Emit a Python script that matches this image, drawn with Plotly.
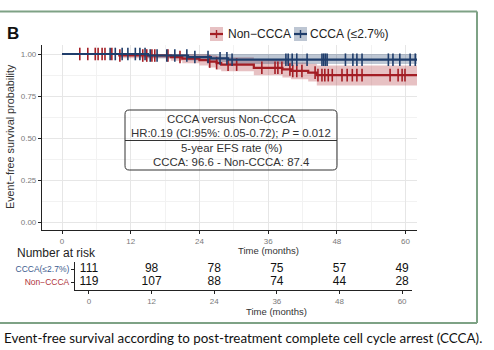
import plotly.graph_objects as go
import numpy as np

W, H = 494, 350
def px(x): return x / W
def py(y): return 1 - y / H

# ---------------- data ----------------
months_ticks = [0, 12, 24, 36, 48, 60]
risk_ccca = [111, 98, 78, 75, 57, 49]
risk_non = [119, 107, 88, 74, 44, 28]

# Kaplan-Meier steps
blue_t = [0, 15, 22, 26, 29, 62]
blue_s = [1.0, 0.991, 0.982, 0.974, 0.966, 0.966]
blue_lo = [1.0, 0.974, 0.962, 0.952, 0.940, 0.940]
blue_hi = [1.0, 1.0, 1.0, 1.0, 1.0, 1.0]

red_t = [0, 10, 19, 21, 24, 25.5, 27, 27.8, 33.5, 38.5, 40, 43, 44.5, 62]
red_s = [1.0, 0.991, 0.982, 0.973, 0.964, 0.955, 0.946, 0.937, 0.918, 0.908, 0.899, 0.889, 0.874, 0.874]
red_lo = [1.0, 0.975, 0.960, 0.945, 0.932, 0.920, 0.908, 0.897, 0.873, 0.860, 0.849, 0.836, 0.812, 0.812]
red_hi = [1.0, 1.0, 1.0, 1.0, 0.998, 0.993, 0.987, 0.980, 0.966, 0.958, 0.950, 0.942, 0.932, 0.932]

blue_cens = [8.4, 9.3, 10.5, 11.5, 12.8, 13.6, 14.5, 15.4, 16.6, 18.3, 19.7, 21.8, 23.2,
             25.5, 27.6, 28.8, 29.7, 39.1, 39.5, 40.2, 41.0, 42.8, 45.4, 45.7, 46.0, 46.3,
             49.5, 50.8, 51.5, 52.4, 57.0, 57.8, 59.0, 60.8, 61.7]
red_cens = [3.1, 4.5, 5.8, 6.3, 7.0, 7.5, 8.7, 10.1, 14.1, 14.8, 15.7, 16.2, 18.5, 20.6,
            25.8, 27.0, 29.0, 30.5, 34.9, 37.2, 37.7, 38.4, 39.8, 40.3, 41.0, 41.9, 44.2,
            44.7, 45.4, 45.9, 46.5, 47.2, 48.9, 49.8, 50.7, 51.5, 52.4, 57.3, 58.7, 59.4, 59.9]

RED = "#a31d24"
BLUE = "#1f3d6b"
RED_BAND = "rgba(175,50,55,0.30)"
BLUE_BAND = "rgba(35,65,110,0.30)"
FONT = "Liberation Sans, Arial, sans-serif"

def surv_at(ts, ss, t):
    idx = np.searchsorted(ts, t, side="right") - 1
    return ss[max(idx, 0)]

fig = go.Figure()

# bands
for t, lo, hi, col in [(red_t, red_lo, red_hi, RED_BAND), (blue_t, blue_lo, blue_hi, BLUE_BAND)]:
    fig.add_trace(go.Scatter(x=t, y=lo, mode="lines", line=dict(width=0, shape="hv"),
                             showlegend=False, hoverinfo="skip"))
    fig.add_trace(go.Scatter(x=t, y=hi, mode="lines", line=dict(width=0, shape="hv"),
                             fill="tonexty", fillcolor=col, showlegend=False, hoverinfo="skip"))

# curves
for t, s, col, cens in [(red_t, red_s, RED, red_cens), (blue_t, blue_s, BLUE, blue_cens)]:
    fig.add_trace(go.Scatter(x=t, y=s, mode="lines", line=dict(color=col, width=2.2, shape="hv"),
                             showlegend=False, hoverinfo="skip"))
    fig.add_trace(go.Scatter(x=cens, y=[surv_at(t, s, c) for c in cens], mode="markers",
                             marker=dict(symbol="line-ns", size=9, line=dict(color=col, width=1.6)),
                             showlegend=False, hoverinfo="skip"))

# risk table numbers
fig.add_trace(go.Scatter(x=months_ticks, y=[1] * 6, mode="text", text=[str(v) for v in risk_ccca],
                         textfont=dict(family=FONT, size=12, color="#111"), xaxis="x2", yaxis="y2",
                         showlegend=False, hoverinfo="skip"))
fig.add_trace(go.Scatter(x=months_ticks, y=[0] * 6, mode="text", text=[str(v) for v in risk_non],
                         textfont=dict(family=FONT, size=12, color="#111"), xaxis="x2", yaxis="y2",
                         showlegend=False, hoverinfo="skip"))

tickfont = dict(family=FONT, size=8, color="#7a7a7a")
fig.update_layout(
    width=W, height=H, margin=dict(l=0, r=0, t=0, b=0),
    paper_bgcolor="white", plot_bgcolor="white",
    xaxis=dict(domain=[px(42), px(417)], range=[-3.5, 62], tickvals=months_ticks,
               showline=True, linecolor="#222", linewidth=1.2, ticks="outside", ticklen=3,
               tickcolor="#222", tickfont=tickfont, showgrid=True, gridcolor="#e6e6e6",
               gridwidth=1, zeroline=False,
               minor=dict(dtick=6, tick0=0, showgrid=True, gridcolor="#f2f2f2", gridwidth=0.8)),
    yaxis=dict(domain=[py(230), py(45)], range=[-0.0476, 1.0536],
               tickvals=[0, 0.25, 0.5, 0.75, 1.0], ticktext=["0.00", "0.25", "0.50", "0.75", "1.00"],
               showline=True, linecolor="#222", linewidth=1.2, ticks="outside", ticklen=3,
               tickcolor="#222", tickfont=tickfont, showgrid=True, gridcolor="#e6e6e6",
               gridwidth=1, zeroline=False,
               minor=dict(dtick=0.125, tick0=0, showgrid=True, gridcolor="#f2f2f2", gridwidth=0.8)),
    xaxis2=dict(domain=[px(75), px(412)], range=[-2.68, 61.9], tickvals=months_ticks,
                anchor="y2", showline=True, linecolor="#222", linewidth=1, ticks="outside",
                ticklen=3, tickcolor="#222", tickfont=tickfont, showgrid=False, zeroline=False),
    yaxis2=dict(domain=[py(290), py(262)], range=[-0.615, 1.54], anchor="x2",
                tickvals=[0, 1],
                ticktext=["<span style='color:#b0363c'>Non\u2212CCCA</span>",
                          "<span style='color:#3b5a8e'>CCCA(\u22642.7%)</span>"],
                showline=True, linecolor="#222", linewidth=1, ticks="outside", ticklen=3,
                tickcolor="#222", tickfont=dict(family=FONT, size=8.5), showgrid=False,
                zeroline=False),
)

ann = []
def A(x, y, text, size, color="#222", xanchor="center", **kw):
    ann.append(dict(x=px(x), y=py(y), xref="paper", yref="paper", text=text, showarrow=False,
                    xanchor=xanchor, yanchor="middle", font=dict(family=kw.pop("family", FONT),
                    size=size, color=color), **kw))

A(5, 33, "<b>B</b>", 17, "#111", xanchor="left")
A(226, 34, "Non\u2212CCCA", 12, "#222", xanchor="left")
A(308, 34, "CCCA (\u22642.7%)", 12, "#222", xanchor="left")
A(10, 137, "Event\u2212free survival probability", 10.8, "#333", textangle=-90)
A(268, 250, "Time (months)", 9.5, "#333")
A(231, 119, "CCCA versus Non-CCCA", 11.4, "#333")
A(231, 133, "HR:0.19 (CI:95%: 0.05-0.72); <i>P</i> = 0.012", 11.4, "#333")
A(231, 148, "5-year EFS rate (%)", 11.4, "#333")
A(231, 162, "CCCA: 96.6 - Non-CCCA: 87.4", 11.4, "#333")
A(15, 253, "Number at risk", 12, "#222", xanchor="left")
A(276, 311, "Time (months)", 9.5, "#333")
A(2, 338, "Event-free survival according to post-treatment complete cell cycle arrest (CCCA).", 13.4,
  "#111", xanchor="left", family="Lato, Open Sans, sans-serif")
fig.update_layout(annotations=ann)

shapes = []
GREEN = "#7ea285"
def L(x0, y0, x1, y1, col, w):
    shapes.append(dict(type="line", xref="paper", yref="paper", x0=px(x0), y0=py(y0),
                       x1=px(x1), y1=py(y1), line=dict(color=col, width=w)))
L(0, 11.5, 477, 11.5, GREEN, 2)
L(477, 11.5, 477, 323, GREEN, 2)
L(0, 323, 477, 323, GREEN, 2)

# legend keys
for x0, band, col in [(210, RED_BAND, RED), (294, BLUE_BAND, BLUE)]:
    shapes.append(dict(type="rect", xref="paper", yref="paper", x0=px(x0), x1=px(x0 + 13),
                       y0=py(41), y1=py(27), fillcolor=band, line=dict(width=0)))
    L(x0, 34, x0 + 13, 34, col, 2.2)
    L(x0 + 6.5, 30, x0 + 6.5, 38, col, 1.4)

# annotation box (rounded)
bx0, bx1, by0, by1, r = px(125), px(337), py(110), py(170), 0.012
rx = r * H / W
shapes.append(dict(type="path", xref="paper", yref="paper", line=dict(color="#333", width=1),
                   path=(f"M {bx0+rx},{by0} L {bx1-rx},{by0} Q {bx1},{by0} {bx1},{by0-r} "
                         f"L {bx1},{by1+r} Q {bx1},{by1} {bx1-rx},{by1} L {bx0+rx},{by1} "
                         f"Q {bx0},{by1} {bx0},{by1+r} L {bx0},{by0-r} Q {bx0},{by0} {bx0+rx},{by0} Z")))
L(125, 140.5, 337, 140.5, "#333", 1)
fig.update_layout(shapes=shapes)

fig.write_html("out.html")
